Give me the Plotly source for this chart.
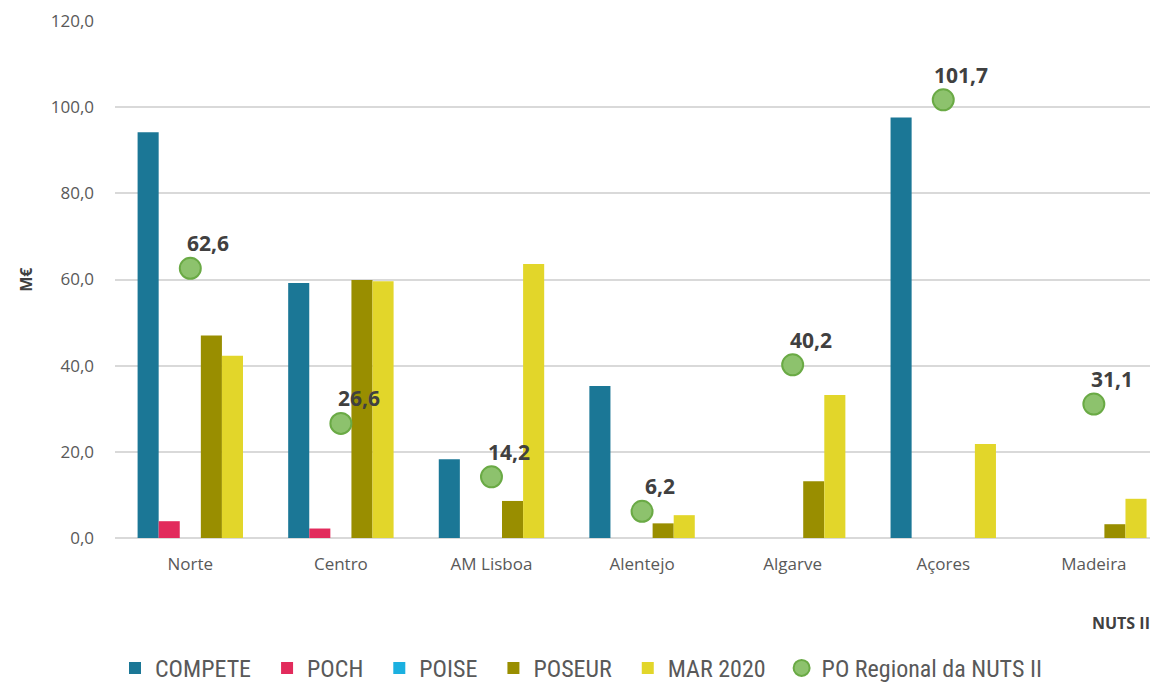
import plotly.graph_objects as go

categories = ["Norte", "Centro", "AM Lisboa", "Alentejo", "Algarve", "Açores", "Madeira"]
compete = [94.2, 59.2, 18.3, 35.3, None, 97.6, None]
poch = [3.9, 2.2, None, None, None, None, None]
poise = [0, 0, 0, 0, 0, 0, 0]
poseur = [47.0, 59.9, 8.6, 3.4, 13.2, None, 3.2]
mar2020 = [42.3, 59.6, 63.6, 5.3, 33.2, 21.8, 9.1]
po_regional = [62.6, 26.6, 14.2, 6.2, 40.2, 101.7, 31.1]
y_ticks = [0, 20, 40, 60, 80, 100, 120]

FONT = "Open Sans"
LEGFONT = "Roboto Condensed"
PAD = "\u00a0\u00a0"  # extra spacing between legend entries
fig = go.Figure()
bar_series = [
    ("COMPETE", compete, "#1B7796"),
    ("POCH", poch, "#E22B5C"),
    ("POISE", poise, "#1BB0E0"),
    ("POSEUR", poseur, "#998E00"),
    ("MAR 2020", mar2020, "#E2D62A"),
]
for name, vals, col in bar_series:
    fig.add_trace(go.Bar(name=name + PAD, x=categories, y=vals, marker=dict(color=col, line=dict(width=0))))

fig.add_trace(go.Scatter(name="PO Regional da NUTS II", x=categories, y=po_regional, mode="markers",
                         marker=dict(size=21, color="#8DC26D", line=dict(color="#6AAA45", width=2))))

for c, v in zip(categories, po_regional):
    fig.add_annotation(x=c, y=v, text="<b>" + f"{v:.1f}".replace(".", ",") + "</b>",
                       showarrow=False, xshift=18, yshift=25,
                       font=dict(family=FONT, size=21, color="#404040"))

fig.add_annotation(xref="paper", yref="paper", x=1.0, xshift=-6, y=-0.165, xanchor="right", yanchor="middle",
                   text="<b>NUTS II</b>", showarrow=False, font=dict(family=FONT, size=16, color="#404040"))
fig.add_annotation(xref="paper", yref="paper", x=-0.086, y=0.5, xanchor="center", yanchor="middle",
                   textangle=-90, text="<b>M€</b>", showarrow=False,
                   font=dict(family=FONT, size=16, color="#404040"))

# the page body has an 8px margin; the figure is sized to end at the window edge
fig.update_layout(
    width=1150, height=674,
    margin=dict(l=107, r=0, t=13, b=144, autoexpand=False),
    plot_bgcolor="white", paper_bgcolor="white",
    barmode="group", bargap=0.3, bargroupgap=0,
    separators=",.",
    font=dict(family=FONT, color="#595959"),
    showlegend=True,
    legend=dict(orientation="h", x=0.0, xanchor="left", y=-0.252, yanchor="middle",
                font=dict(family=LEGFONT, size=24, color="#595959"), itemwidth=30,
                traceorder="normal"),
    xaxis=dict(range=[-0.5, 6.426], showgrid=False, showline=False, ticks="",
               ticklabelstandoff=14,
               tickfont=dict(family=FONT, size=17, color="#595959")),
    yaxis=dict(range=[0, 120], tickvals=y_ticks, tickformat=".1f", showgrid=True,
               gridcolor="#D9D9D9", gridwidth=1.5, zeroline=True, zerolinecolor="#D9D9D9",
               zerolinewidth=1.5, showline=False, ticks="", ticklabelstandoff=20,
               tickfont=dict(family=FONT, size=17, color="#595959")),
)
fig.write_html("out.html")
